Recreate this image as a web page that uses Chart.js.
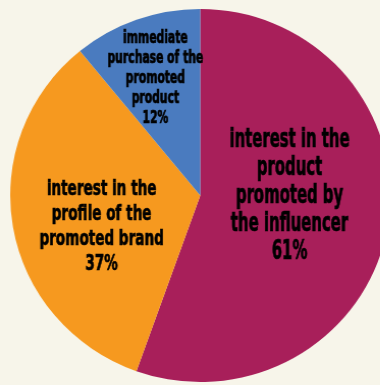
<!DOCTYPE html>
<html lang="en">
<head>
  <meta charset="UTF-8" />
  <title>Influencer impact</title>
  <script src="https://cdn.jsdelivr.net/npm/chart.js"></script>
  <style>
    html, body { margin: 0; padding: 0; background: #f7f5ea; overflow: hidden; }
    /* the pie is drawn a touch wider than tall */
    #pieChart { transform: scaleX(1.019); transform-origin: 0 0; }
  </style>
</head>
<body>
  <canvas id="pieChart" width="400" height="390"></canvas>

  <script>
    // slice labels (lines) and their percentages
    const labels = [
      ['interest in the', 'product', 'promoted by', 'the influencer'],
      ['interest in the', 'profile of the', 'promoted brand'],
      ['immediate', 'purchase of the', 'promoted', 'product']
    ];
    const values = [61, 37, 12];
    const colors = ['#a81f5a', '#f6991f', '#4a7bbf'];

    // text inside each slice: font size, line height, widest line width,
    // distance from centre, angle nudge
    const labelStyle = [
      { size: 23, lh: 28, wide: 118, frac: 0.47, nudge: -9 },
      { size: 19, lh: 25, wide: 122, frac: 0.545, nudge: -8 },
      { size: 15, lh: 20, wide: 94, frac: 0.67, nudge: -1 }
    ];
    const FONT = '"DejaVu Sans Condensed", "DejaVu Sans", sans-serif';

    const sliceText = {
      id: 'sliceText',
      afterDatasetsDraw(chart) {
        const ctx = chart.ctx;
        const meta = chart.getDatasetMeta(0);
        meta.data.forEach((arc, i) => {
          const st = labelStyle[i];
          const mid = (arc.startAngle + arc.endAngle) / 2 + st.nudge * Math.PI / 180;
          const r = arc.outerRadius * st.frac;
          const cx = arc.x + Math.cos(mid) * r;
          const cy = arc.y + Math.sin(mid) * r;
          const lines = labels[i].concat([values[i] + '%']);
          ctx.save();
          ctx.fillStyle = '#000';
          ctx.strokeStyle = '#000';
          ctx.lineWidth = 0.6;
          ctx.textAlign = 'center';
          ctx.textBaseline = 'middle';
          ctx.font = 'bold ' + st.size + 'px ' + FONT;
          if ('fontStretch' in ctx) ctx.fontStretch = 'condensed';
          const widest = Math.max(...lines.map(ln => ctx.measureText(ln).width));
          const sx = st.wide / widest;
          const top = cy - (lines.length - 1) * st.lh / 2;
          lines.forEach((ln, k) => {
            ctx.save();
            ctx.translate(cx, top + k * st.lh);
            ctx.scale(sx, 1.12);
            ctx.fillText(ln, 0, 0);
            ctx.strokeText(ln, 0, 0);
            ctx.restore();
          });
          ctx.restore();
        });
      }
    };

    new Chart(document.getElementById('pieChart'), {
      type: 'pie',
      data: {
        labels: labels.map(l => l.join(' ')),
        datasets: [{
          data: values,
          backgroundColor: colors,
          borderWidth: 0
        }]
      },
      options: {
        responsive: false,
        animation: false,
        layout: { padding: { left: 10, top: 9, right: 17, bottom: 8 } },
        plugins: {
          legend: { display: false },
          tooltip: { enabled: false }
        }
      },
      plugins: [sliceText]
    });
  </script>
</body>
</html>
